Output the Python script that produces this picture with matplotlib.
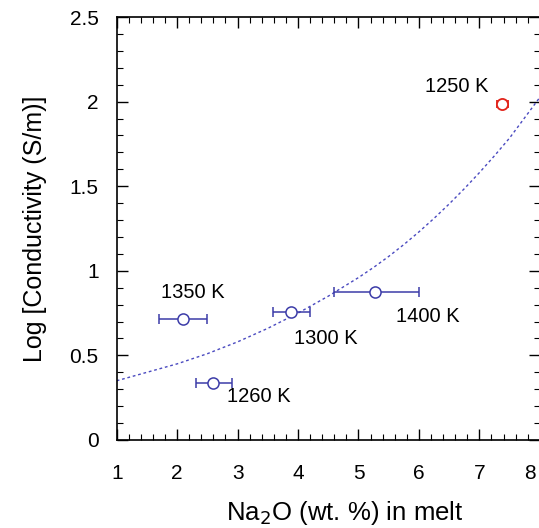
import matplotlib
matplotlib.use("Agg")
import matplotlib.pyplot as plt
from matplotlib.ticker import MultipleLocator
from matplotlib.transforms import ScaledTranslation

plt.rcParams['font.family'] = ['Liberation Sans', 'DejaVu Sans']

# Measured conductivity vs. Na2O content of the melt
temps = ["1260 K", "1300 K", "1350 K", "1400 K"]
na2o = [2.60, 3.89, 2.09, 5.28]
na2o_lo = [2.31, 3.59, 1.70, 4.60]
na2o_hi = [2.91, 4.20, 2.50, 6.00]
log_sigma = [0.335, 0.757, 0.713, 0.877]

# Separate run at 1250 K
red_label = "1250 K"
red_na2o = 7.38
red_err = 0.09
red_log_sigma = 1.985

# Trend curve through the data
trend_x = [1.0, 1.25, 1.5, 1.75, 2.0, 2.25, 2.5, 2.75, 3.0, 3.25, 3.5, 3.75, 4.0, 4.25,
           4.5, 4.75, 5.0, 5.25, 5.5, 5.75, 6.0, 6.25, 6.5, 6.75, 7.0, 7.25, 7.5, 7.75, 8.0]
trend_y = [0.35, 0.375, 0.40, 0.425, 0.45, 0.48, 0.51, 0.545, 0.58, 0.62, 0.66, 0.705, 0.75,
           0.80, 0.85, 0.905, 0.96, 1.02, 1.085, 1.155, 1.23, 1.31, 1.395, 1.485, 1.58, 1.68,
           1.785, 1.905, 2.025]

# Label positions (data coordinates)
label_x = [3.35, 4.46, 2.26, 6.15]
label_y = [0.256, 0.599, 0.873, 0.729]
red_label_xy = (6.63, 2.088)

x_ticks = [1, 2, 3, 4, 5, 6, 7, 8]
y_ticks = [0, 0.5, 1, 1.5, 2, 2.5]
y_tick_labels = ["0", "0.5", "1", "1.5", "2", "2.5"]

blue = "#3c3ca8"
red = "#e2231a"

fig = plt.figure(figsize=(5.39, 5.28), dpi=100)
ax = fig.add_axes([0.2165, 0.1667, 0.785, 0.801])

ax.plot(trend_x, trend_y, linestyle=(0, (2, 2)), color="#4a4ac0", lw=1.0, zorder=2)

xerr = [[n - lo for n, lo in zip(na2o, na2o_lo)], [hi - n for n, hi in zip(na2o, na2o_hi)]]
ax.errorbar(na2o, log_sigma, xerr=xerr, fmt='o', mfc='white', mec=blue, ms=8,
            mew=1.1, ecolor=blue, elinewidth=1.1, capsize=3.5, capthick=1.1, zorder=3)
ax.errorbar([red_na2o], [red_log_sigma], xerr=[red_err], fmt='o', mfc='white', mec=red,
            ms=8, mew=1.3, ecolor=red, elinewidth=1.1, capsize=3, capthick=1.1, zorder=3)

for t, lx, ly in zip(temps, label_x, label_y):
    ax.text(lx, ly, t, ha='center', va='center', fontsize=14.5)
ax.text(red_label_xy[0], red_label_xy[1], red_label, ha='center', va='center', fontsize=14.5)

ax.set_xlim(1, 8)
ax.set_ylim(0, 2.5)
ax.set_xticks(x_ticks)
ax.xaxis.set_minor_locator(MultipleLocator(0.2))
ax.set_yticks(y_ticks)
ax.set_yticklabels(y_tick_labels)
ax.yaxis.set_minor_locator(MultipleLocator(0.1))

ax.tick_params(which='both', direction='in', top=True, right=True, labelsize=15)
ax.tick_params(which='major', length=8, width=1.0)
ax.tick_params(which='minor', length=4, width=0.8)
ax.tick_params(axis='x', which='major', pad=17)
ax.tick_params(axis='y', which='major', pad=13)
for s in ax.spines.values():
    s.set_linewidth(1.2)

# keep the last x tick label inside the figure
fig.canvas.draw()
last = ax.get_xticklabels()[-1]
last.set_transform(last.get_transform() + ScaledTranslation(-10 / 100, 0, fig.dpi_scale_trans))

fig.text(345 / 539, 8 / 528, "Na$_2$O (wt. %) in melt", ha='center', va='baseline', fontsize=18.5)
ax.set_ylabel("Log [Conductivity (S/m)]", fontsize=18, labelpad=16)

fig.savefig("out.png", dpi=100)
